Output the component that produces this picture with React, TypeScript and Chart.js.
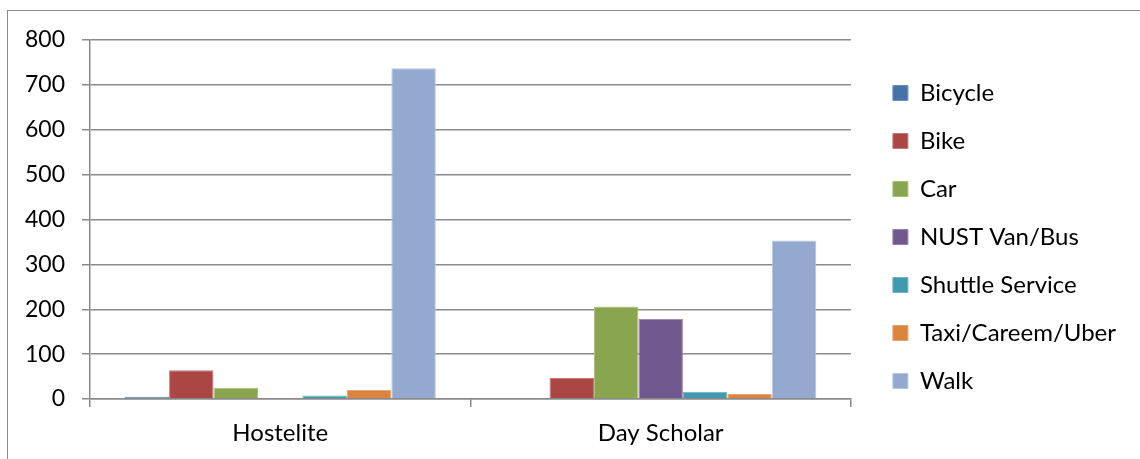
import { useEffect, useRef } from "react";
import { Chart, registerables } from "chart.js";

Chart.register(...registerables);

// Travel mode counts per student group
const categories = ["Hostelite", "Day Scholar"];
const modes = [
  "Bicycle",
  "Bike",
  "Car",
  "NUST Van/Bus",
  "Shuttle Service",
  "Taxi/Careem/Uber",
  "Walk",
];
const bicycle = [5, 0];
const bike = [64, 47];
const car = [25, 206];
const nustVanBus = [0, 179];
const shuttleService = [8, 16];
const taxiCareemUber = [20, 11];
const walk = [737, 353];

const seriesValues = [bicycle, bike, car, nustVanBus, shuttleService, taxiCareemUber, walk];
const fillColors = ["#4572A7", "#AA4643", "#89A54E", "#71588F", "#4198AF", "#DB843D", "#93A9CF"];
const edgeColors = ["#6f8fbf", "#c07a77", "#a8c07c", "#9582ab", "#72b3c6", "#e8a571", "#b7c6e1"];

const yMin = 0;
const yMax = 800;
const yStep = 100;

const FONT = "Lato, 'Open Sans', sans-serif";
const AXIS_GREY = "#8a8a8a";

export default function App() {
  const canvasRef = useRef<HTMLCanvasElement | null>(null);

  useEffect(() => {
    const canvas = canvasRef.current;
    if (!canvas) return;

    const chart = new Chart(canvas, {
      type: "bar",
      data: {
        labels: categories,
        datasets: modes.map((name, i) => ({
          label: name,
          data: seriesValues[i],
          backgroundColor: fillColors[i],
          borderColor: edgeColors[i],
          borderWidth: 1,
          categoryPercentage: 0.818,
          barPercentage: 1,
          xAxisID: "x",
          yAxisID: "y",
        })),
      },
      options: {
        responsive: false,
        maintainAspectRatio: false,
        animation: false,
        events: [],
        font: { family: FONT, size: 23 },
        layout: { padding: { top: 40, right: 14, bottom: 0, left: 0 } },
        plugins: {
          tooltip: { enabled: false },
          title: { display: false },
          legend: {
            position: "right",
            align: "start",
            maxWidth: 400,
            title: {
              display: true,
              text: " ",
              font: { family: FONT, size: 10 },
              padding: { top: 0, bottom: 5 },
            },
            labels: {
              boxWidth: 15,
              boxHeight: 15,
              padding: 24,
              color: "#000000",
              font: { family: FONT, size: 24 },
            },
          },
        },
        scales: {
          x: {
            type: "category",
            position: "bottom",
            offset: true,
            grid: {
              offset: true,
              drawOnChartArea: false,
              drawTicks: true,
              tickLength: 8,
              color: AXIS_GREY,
              lineWidth: 1.5,
            },
            border: { display: true, color: AXIS_GREY, width: 1.5 },
            ticks: {
              color: "#000000",
              font: { family: FONT, size: 24 },
              padding: 12,
              maxRotation: 0,
            },
            afterFit: (scale: any) => {
              scale.height = 60;
            },
          },
          y: {
            type: "linear",
            position: "left",
            min: yMin,
            max: yMax,
            grid: {
              drawOnChartArea: true,
              drawTicks: true,
              tickLength: 8,
              color: AXIS_GREY,
              lineWidth: 1.5,
            },
            border: { display: true, color: AXIS_GREY, width: 1.5 },
            ticks: {
              stepSize: yStep,
              color: "#000000",
              font: { family: FONT, size: 23 },
              padding: 17,
            },
            afterFit: (scale: any) => {
              scale.width = 90;
            },
          },
          gap: {
            type: "linear",
            position: "right",
            display: true,
            grid: { display: false, drawTicks: false },
            border: { display: false },
            ticks: { display: false },
            afterFit: (scale: any) => {
              scale.width = 18;
            },
          },
        },
      },
    });

    return () => {
      chart.destroy();
    };
  }, []);

  return (
    <div
      style={{
        position: "fixed",
        left: 0,
        top: 0,
        width: 1140,
        height: 459,
        background: "#ffffff",
        overflow: "hidden",
      }}
    >
      <div
        style={{
          position: "absolute",
          left: 7,
          top: 10,
          width: 1300,
          height: 600,
          borderTop: "1px solid #8a8a8a",
          borderLeft: "1px solid #8a8a8a",
          boxSizing: "border-box",
        }}
      />
      <canvas
        ref={canvasRef}
        width={1140}
        height={459}
        style={{ position: "absolute", left: 0, top: 0, width: 1140, height: 459 }}
      />
    </div>
  );
}
